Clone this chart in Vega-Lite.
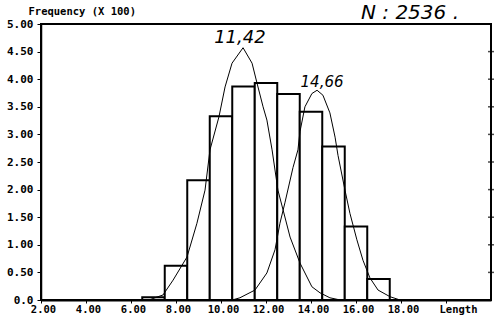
{
  "$schema": "https://vega.github.io/schema/vega-lite/v6.json",
  "width": 450,
  "height": 276,
  "autosize": "none",
  "padding": {"left": 41, "top": 24, "right": 3, "bottom": 23},
  "background": "white",
  "config": {
    "view": {"stroke": "black", "strokeWidth": 2},
    "axis": {"domainColor": "black", "tickColor": "black", "labelColor": "black", "grid": false,
      "labelFont": "DejaVu Sans Mono", "labelFontWeight": "bold", "labelFontSize": 10.5,
      "titleColor": "black"}
  },
  "datasets": {
    "bars": [
      {"x": 6.5, "x1": 7.5, "y": 0.05},
      {"x": 7.5, "x1": 8.5, "y": 0.62},
      {"x": 8.5, "x1": 9.5, "y": 2.17},
      {"x": 9.5, "x1": 10.5, "y": 3.33},
      {"x": 10.5, "x1": 11.5, "y": 3.87},
      {"x": 11.5, "x1": 12.5, "y": 3.93},
      {"x": 12.5, "x1": 13.5, "y": 3.73},
      {"x": 13.5, "x1": 14.5, "y": 3.41},
      {"x": 14.5, "x1": 15.5, "y": 2.78},
      {"x": 15.5, "x1": 16.5, "y": 1.33},
      {"x": 16.5, "x1": 17.5, "y": 0.38}
    ],
    "curves": [
      {"s": "a", "x": 6.8, "y": 0},
      {"s": "a", "x": 7.2, "y": 0.06},
      {"s": "a", "x": 7.42, "y": 0.09},
      {"s": "a", "x": 7.87, "y": 0.36},
      {"s": "a", "x": 8.49, "y": 0.78},
      {"s": "a", "x": 8.93, "y": 1.39},
      {"s": "a", "x": 9.29, "y": 1.99},
      {"s": "a", "x": 9.51, "y": 2.72},
      {"s": "a", "x": 9.91, "y": 3.32},
      {"s": "a", "x": 10.18, "y": 3.86},
      {"s": "a", "x": 10.49, "y": 4.29},
      {"s": "a", "x": 10.98, "y": 4.57},
      {"s": "a", "x": 11.38, "y": 4.29},
      {"s": "a", "x": 11.6, "y": 3.93},
      {"s": "a", "x": 11.87, "y": 3.5},
      {"s": "a", "x": 12.04, "y": 3.26},
      {"s": "a", "x": 12.27, "y": 2.72},
      {"s": "a", "x": 12.53, "y": 1.99},
      {"s": "a", "x": 12.76, "y": 1.63},
      {"s": "a", "x": 13.07, "y": 1.14},
      {"s": "a", "x": 13.51, "y": 0.67},
      {"s": "a", "x": 14.04, "y": 0.24},
      {"s": "a", "x": 14.4, "y": 0.13},
      {"s": "a", "x": 14.84, "y": 0.04},
      {"s": "a", "x": 15.3, "y": 0},
      {"s": "b", "x": 10.5, "y": 0},
      {"s": "b", "x": 10.84, "y": 0.04},
      {"s": "b", "x": 11.51, "y": 0.18},
      {"s": "b", "x": 12.04, "y": 0.49},
      {"s": "b", "x": 12.4, "y": 0.91},
      {"s": "b", "x": 12.62, "y": 1.39},
      {"s": "b", "x": 12.84, "y": 1.76},
      {"s": "b", "x": 13.2, "y": 2.4},
      {"s": "b", "x": 13.42, "y": 2.72},
      {"s": "b", "x": 13.51, "y": 3.05},
      {"s": "b", "x": 13.73, "y": 3.5},
      {"s": "b", "x": 14.04, "y": 3.74},
      {"s": "b", "x": 14.27, "y": 3.8},
      {"s": "b", "x": 14.53, "y": 3.71},
      {"s": "b", "x": 14.84, "y": 3.39},
      {"s": "b", "x": 15.07, "y": 2.95},
      {"s": "b", "x": 15.2, "y": 2.62},
      {"s": "b", "x": 15.51, "y": 1.99},
      {"s": "b", "x": 15.73, "y": 1.57},
      {"s": "b", "x": 16.04, "y": 1.09},
      {"s": "b", "x": 16.31, "y": 0.72},
      {"s": "b", "x": 16.62, "y": 0.4},
      {"s": "b", "x": 16.98, "y": 0.18},
      {"s": "b", "x": 17.51, "y": 0.06},
      {"s": "b", "x": 17.96, "y": 0}
    ],
    "notes": [
      {"x": 10.84, "y": 4.75, "label": "11,42", "size": 18},
      {"x": 14.49, "y": 3.95, "label": "14,66", "size": 15},
      {"x": 18.4, "y": 5.2, "label": "N : 2536 .", "size": 20}
    ],
    "rticks": [
      {"x": 22, "y": 0.5}, {"x": 22, "y": 1}, {"x": 22, "y": 1.5}, {"x": 22, "y": 2},
      {"x": 22, "y": 2.5}, {"x": 22, "y": 3}, {"x": 22, "y": 3.5}, {"x": 22, "y": 4}, {"x": 22, "y": 4.5}
    ]
  },
  "encoding": {
    "x": {"field": "x", "type": "quantitative",
      "scale": {"domain": [2, 22], "nice": false, "zero": false},
      "axis": {"title": null, "values": [2, 4, 6, 8, 10, 12, 14, 16, 18, 20],
        "labelExpr": "datum.value == 20 ? 'Length' : format(datum.value, '.2f')",
        "labelOffset": {"condition": {"test": "datum.value == 20", "value": 12}, "value": 2},
        "tickSize": 3, "labelPadding": 1, "domainWidth": 2, "labelFlush": false}},
    "y": {"field": "y", "type": "quantitative",
      "scale": {"domain": [0, 5], "nice": false},
      "axis": {"title": "Frequency  (X  100)", "values": [0, 0.5, 1, 1.5, 2, 2.5, 3, 3.5, 4, 4.5, 5],
        "labelExpr": "datum.value == 0 ? '0.0' : format(datum.value, '.2f')",
        "tickSize": 4, "labelPadding": 4, "domainWidth": 1.5, "labelFontSize": 11,
        "titleAngle": 0, "titleAlign": "left", "titleBaseline": "middle",
        "titleX": -13, "titleY": -13, "titleFont": "DejaVu Sans Mono",
        "titleFontWeight": "bold", "titleFontSize": 10.5}}
  },
  "layer": [
    {
      "data": {"name": "bars"},
      "mark": {"type": "rect", "fill": "white", "stroke": "black", "strokeWidth": 2},
      "encoding": {
        "x2": {"field": "x1"},
        "y2": {"datum": 0}
      }
    },
    {
      "data": {"name": "curves"},
      "mark": {"type": "line", "color": "black", "strokeWidth": 1},
      "encoding": {
        "detail": {"field": "s"}
      }
    },
    {
      "data": {"name": "rticks"},
      "mark": {"type": "tick", "orient": "horizontal", "color": "black", "size": 6, "thickness": 1.5, "clip": false},
      "encoding": {}
    },
    {
      "data": {"name": "notes"},
      "mark": {"type": "text", "font": "DejaVu Sans", "fontStyle": "italic", "color": "black", "clip": false},
      "encoding": {
        "text": {"field": "label"},
        "size": {"field": "size", "type": "quantitative", "scale": null}
      }
    }
  ]
}
